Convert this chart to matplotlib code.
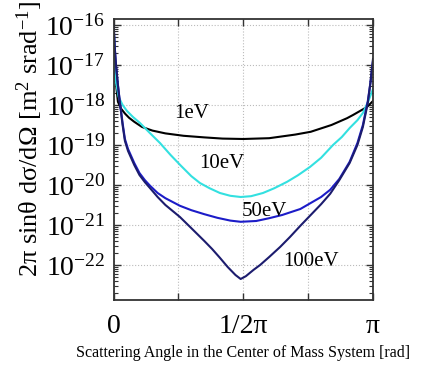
import numpy as np
import matplotlib
matplotlib.use('Agg')
import matplotlib.pyplot as plt
from matplotlib.ticker import LogLocator, NullFormatter

plt.rcParams['font.family'] = ['Liberation Serif', 'DejaVu Serif']
plt.rcParams['mathtext.fontset'] = 'custom'
plt.rcParams['mathtext.rm'] = 'Liberation Serif'
plt.rcParams['mathtext.it'] = 'Liberation Serif:italic'

# angle as a fraction of pi, cross section as log10 value
frac_1 = [0.002, 0.006, 0.01, 0.017, 0.03, 0.045, 0.06, 0.08, 0.11, 0.15, 0.2, 0.27, 0.35,
          0.42, 0.5, 0.6, 0.7, 0.76, 0.84, 0.9, 0.923, 0.95, 0.977, 1.0]
log_1 = [-16.3, -17.1, -17.5, -17.92, -18.1, -18.22, -18.32, -18.42, -18.55, -18.64, -18.71, -18.77, -18.81,
         -18.84, -18.85, -18.83, -18.74, -18.67, -18.5, -18.33, -18.25, -18.15, -18.05, -17.9]

frac_10 = [0.002, 0.006, 0.01, 0.02, 0.035, 0.052, 0.075, 0.102, 0.14, 0.179, 0.22, 0.26, 0.3,
           0.333, 0.37, 0.41, 0.45, 0.49, 0.53, 0.576, 0.62, 0.669, 0.71, 0.757, 0.8, 0.846,
           0.88, 0.911, 0.94, 0.961, 0.981, 1.0]
log_10 = [-16.3, -17.1, -17.45, -17.8, -18.0, -18.15, -18.3, -18.45, -18.7, -18.95, -19.25, -19.52, -19.78,
          -19.95, -20.08, -20.2, -20.27, -20.3, -20.28, -20.2, -20.08, -19.92, -19.76, -19.55, -19.32, -19.0,
          -18.8, -18.57, -18.38, -18.2, -17.92, -17.6]

frac_50 = [0.001, 0.004, 0.0096, 0.017, 0.025, 0.035, 0.044, 0.056, 0.08, 0.1, 0.121, 0.141, 0.17,
           0.2, 0.256, 0.3, 0.35, 0.4, 0.45, 0.49, 0.55, 0.6, 0.65, 0.72, 0.76, 0.8, 0.835,
           0.87, 0.91, 0.94, 0.961, 0.98, 0.99, 1.0]
log_50 = [-16.0, -16.5, -17.0, -17.5, -17.95, -18.45, -18.85, -19.1, -19.45, -19.7, -19.88, -20.02, -20.2,
          -20.33, -20.52, -20.63, -20.73, -20.82, -20.89, -20.92, -20.9, -20.83, -20.75, -20.6, -20.45, -20.3, -20.12,
          -19.85, -19.42, -18.95, -18.5, -17.9, -17.45, -16.9]

frac_100 = [0.001, 0.004, 0.0096, 0.017, 0.025, 0.035, 0.044, 0.056, 0.08, 0.1, 0.121, 0.141, 0.17,
            0.2, 0.256, 0.3, 0.35, 0.38, 0.41, 0.44, 0.47, 0.49, 0.51, 0.54, 0.565, 0.6, 0.642,
            0.68, 0.72, 0.76, 0.8, 0.835, 0.87, 0.91, 0.94, 0.961, 0.98, 0.99, 1.0]
log_100 = [-16.0, -16.5, -17.0, -17.5, -17.97, -18.5, -18.9, -19.15, -19.5, -19.75, -19.93, -20.08, -20.3,
           -20.5, -20.8, -21.08, -21.4, -21.6, -21.82, -22.05, -22.25, -22.35, -22.28, -22.12, -22.0, -21.8, -21.55,
           -21.3, -21.02, -20.75, -20.48, -20.22, -19.88, -19.45, -19.0, -18.55, -17.95, -17.45, -16.85]

series = [
    ("1eV", frac_1, log_1, "#000000", (0.94, 6.0e-19)),
    ("10eV", frac_10, log_10, "#33e0e0", (1.31, 3.5e-20)),
    ("50eV", frac_50, log_50, "#1c1cc8", (1.83, 2.2e-21)),
    ("100eV", frac_100, log_100, "#1c1c6e", (2.39, 1.2e-22)),
]

fig = plt.figure(figsize=(4.24, 3.68), dpi=100)
ax = fig.add_axes([0.2677, 0.1848, 0.6120, 0.7636])

for name, fr, lg, col, pos in series:
    ax.plot(np.array(fr) * np.pi, 10.0 ** np.array(lg), color=col, lw=1.5)
    ax.text(pos[0], pos[1], name, fontsize=15, ha='center', va='center')

ax.set_yscale('log')
ax.set_xlim(0, np.pi)
ax.set_ylim(10 ** -22.875, 10 ** -15.85)

ax.set_xticks([0, np.pi / 4, np.pi / 2, 3 * np.pi / 4, np.pi])
ax.set_xticklabels(["0", "", "1/2π", "", "π"], fontsize=20)
ax.set_yticks([10.0 ** e for e in range(-22, -15)])
ax.set_yticklabels([r'$\mathregular{10^{%d}}$' % e for e in range(-22, -15)], fontsize=20)
ax.yaxis.set_minor_locator(LogLocator(base=10, subs=np.arange(2, 10), numticks=20))
ax.yaxis.set_minor_formatter(NullFormatter())

ax.tick_params(which='both', direction='in', top=True, right=True, color='#333333')
ax.tick_params(which='major', length=5, width=1.0, pad=6)
ax.tick_params(which='minor', length=3, width=0.8)
ax.tick_params(axis='x', pad=10)

ax.grid(True, which='major', linestyle=':', color='#bbbbbb', lw=0.8)
for s in ax.spines.values():
    s.set_color('#333333')
    s.set_linewidth(1.3)

fig.text(30 / 424, 1 - 139 / 368, r'2π sinθ dσ/dΩ [m$^{\mathregular{2}}$ srad$^{\mathregular{-1}}$]',
         rotation=90, fontsize=19, ha='center', va='center')
fig.text(243 / 424, 1 - 353 / 368, "Scattering Angle in the Center of Mass System [rad]",
         fontsize=11.5, ha='center', va='center')

fig.savefig("out.png", dpi=100)
